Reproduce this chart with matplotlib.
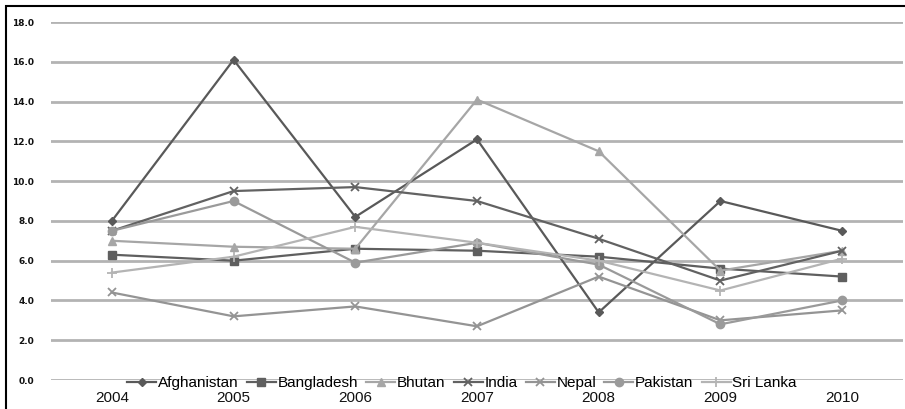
import matplotlib
matplotlib.use("Agg")
import matplotlib.pyplot as plt
from matplotlib.patches import Rectangle

years = ["2004", "2005", "2006", "2007", "2008", "2009", "2010"]
afghanistan = [8.0, 16.1, 8.2, 12.1, 3.4, 9.0, 7.5]
bangladesh = [6.3, 6.0, 6.6, 6.5, 6.2, 5.6, 5.2]
bhutan = [7.0, 6.7, 6.6, 14.1, 11.5, 5.5, 6.5]
india = [7.5, 9.5, 9.7, 9.0, 7.1, 5.0, 6.5]
nepal = [4.4, 3.2, 3.7, 2.7, 5.2, 3.0, 3.5]
pakistan = [7.5, 9.0, 5.9, 6.9, 5.8, 2.8, 4.0]
sri_lanka = [5.4, 6.2, 7.7, 6.9, 6.0, 4.5, 6.1]

series = [
    ("Afghanistan", afghanistan, "#595959", "D", 4),
    ("Bangladesh", bangladesh, "#5f5f5f", "s", 6),
    ("Bhutan", bhutan, "#a6a6a6", "^", 6),
    ("India", india, "#626262", "x", 6),
    ("Nepal", nepal, "#949494", "x", 6),
    ("Pakistan", pakistan, "#9a9a9a", "o", 6),
    ("Sri Lanka", sri_lanka, "#b4b4b4", "+", 7),
]

W, H = 905, 409
fig = plt.figure(figsize=(W / 100, H / 100), dpi=100)
ax = fig.add_axes([51 / W, 1 - 380 / H, (903 - 51) / W, (380 - 22) / H])

x = list(range(len(years)))
for name, vals, col, mk, ms in series:
    ax.plot(x, vals, color=col, lw=1.6, marker=mk, markersize=ms,
            markeredgewidth=1.3 if mk in ("x", "+") else 1,
            label=name, zorder=3)

ax.set_xlim(-0.5, len(years) - 0.5)
ax.set_ylim(0, 18)
ax.set_yticks([0, 2, 4, 6, 8, 10, 12, 14, 16, 18])
ax.set_yticklabels([f"{v:.1f}" for v in ax.get_yticks()],
                   fontsize=6.5, fontweight="bold", color="#111111")
ax.set_xticks(x)
ax.set_xticklabels(years, fontsize=11, family="Liberation Sans", color="#111111")
ax.tick_params(axis="both", length=0)
ax.tick_params(axis="y", pad=12)
ax.tick_params(axis="x", pad=8)
ax.grid(axis="y", color="#b3b3b3", lw=2, zorder=0)
ax.set_axisbelow(True)
for s in ax.spines.values():
    s.set_visible(False)

leg = ax.legend(loc="center", bbox_to_anchor=(462 / W, 1 - 383 / H),
                bbox_transform=fig.transFigure, ncol=7, frameon=False,
                prop={"family": "Liberation Sans", "size": 11},
                handlelength=1.9, handletextpad=0.1, columnspacing=0.55,
                borderpad=0)

fig.patches.append(Rectangle((6 / W, -0.1), 1.2, 1 - 6 / H + 0.1,
                             transform=fig.transFigure, fill=False,
                             edgecolor="black", lw=1.5))

fig.savefig("out.png", dpi=100)
